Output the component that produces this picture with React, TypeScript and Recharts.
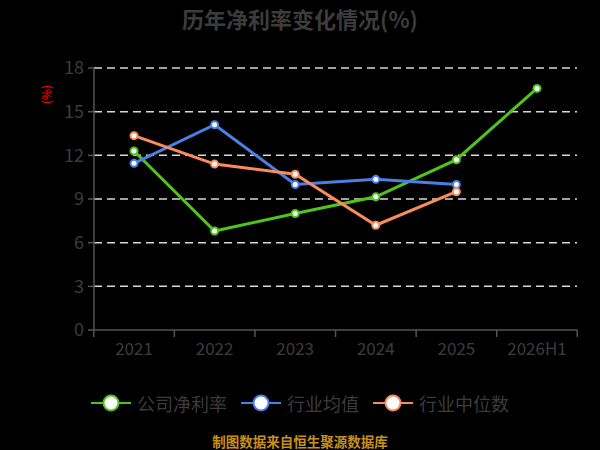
import React from "react";
import { CartesianGrid, Legend, Line, LineChart, XAxis, YAxis } from "recharts";

const anos = ["2021", "2022", "2023", "2024", "2025", "2026H1"];
const empresa = [12.3, 6.8, 8.0, 9.15, 11.7, 16.6];
const mediaSetor = [11.45, 14.1, 10.0, 10.35, 10.0, null];
const medianaSetor = [13.35, 11.4, 10.7, 7.2, 9.5, null];
const ticksY = [0, 3, 6, 9, 12, 15, 18];
const series = ["公司净利率", "行业均值", "行业中位数"];

const dados = anos.map((ano, i) => ({
  ano,
  empresa: empresa[i],
  media: mediaSetor[i],
  mediana: medianaSetor[i],
}));

const FONTE = '"Noto Sans CJK SC", "Noto Sans", sans-serif';
const CINZA = "#3c3c3c";

// tick do eixo X: traço na fronteira da categoria, rótulo no centro
function TickX(props: any) {
  const { x, y, payload, index, width } = props;
  const bw = width / anos.length;
  const ultimo = index === anos.length - 1;
  return (
    <g>
      <line x1={x - bw / 2} x2={x - bw / 2} y1={y} y2={y + 7} stroke="#555" strokeWidth={1.5} />
      {ultimo && <line x1={x + bw / 2} x2={x + bw / 2} y1={y} y2={y + 7} stroke="#555" strokeWidth={1.5} />}
      <text x={x} y={y + 25} textAnchor="middle" fill={CINZA} fontSize={17} fontFamily={FONTE}>
        {payload.value}
      </text>
    </g>
  );
}

function Ponto(props: any) {
  const { cx, cy, stroke, value } = props;
  if (value == null || cx == null) return null;
  return <circle cx={cx} cy={cy} r={3.5} fill="#fff" stroke={stroke} strokeWidth={2} />;
}

function Legenda(props: any) {
  const payload = [...(props.payload || [])].sort(
    (a: any, b: any) => series.indexOf(a.value) - series.indexOf(b.value)
  );
  return (
    <div style={{ display: "flex", justifyContent: "center", gap: 14, fontFamily: FONTE }}>
      {payload.map((p: any) => (
        <div key={p.value} style={{ display: "flex", alignItems: "center", gap: 6 }}>
          <svg width={40} height={20}>
            <line x1={0} x2={40} y1={10} y2={10} stroke={p.color} strokeWidth={2} />
            <circle cx={20} cy={10} r={7.5} fill="#fff" stroke={p.color} strokeWidth={2} />
          </svg>
          <span style={{ color: CINZA, fontSize: 18 }}>{p.value}</span>
        </div>
      ))}
    </div>
  );
}

export default function App() {
  return (
    <div style={{ position: "absolute", left: 0, top: 0, width: 600, height: 450, background: "#000", fontFamily: FONTE }}>
      <div
        style={{
          position: "absolute",
          top: 2,
          width: 600,
          textAlign: "center",
          fontSize: 22,
          fontWeight: 700,
          color: CINZA,
        }}
      >
        历年净利率变化情况(%)
      </div>
      <div
        style={{
          position: "absolute",
          left: 36,
          top: 86,
          fontSize: 12,
          color: "#ff0000",
          transform: "rotate(-90deg)",
          transformOrigin: "center",
        }}
      >
        (%)
      </div>
      <LineChart
        width={600}
        height={450}
        data={dados}
        margin={{ top: 68, right: 23, bottom: 64, left: 44 }}
      >
        <CartesianGrid vertical={false} stroke="#d8d8d8" strokeDasharray="8 5" strokeWidth={1.5} horizontalValues={[3, 6, 9, 12, 15, 18]} />
        <XAxis
          dataKey="ano"
          height={30}
          stroke="#555"
          strokeWidth={1.5}
          tickLine={false}
          tickSize={0}
          tickMargin={0}
          interval={0}
          padding={{ left: 40, right: 40 }}
          tick={<TickX />}
        />
        <YAxis
          width={50}
          domain={[0, 18]}
          ticks={ticksY}
          stroke="#555"
          strokeWidth={1.5}
          tickSize={6}
          tickMargin={4}
          tick={{ fill: CINZA, fontSize: 18, fontFamily: FONTE }}
        />
        <Legend
          verticalAlign="bottom"
          wrapperStyle={{ top: 390, left: 0, width: 600 }}
          content={<Legenda />}
        />
        <Line
          name={series[0]}
          dataKey="empresa"
          stroke="#4fc41c"
          strokeWidth={3}
          dot={<Ponto />}
          activeDot={false}
          isAnimationActive={false}
        />
        <Line
          name={series[1]}
          dataKey="media"
          stroke="#4a7fe3"
          strokeWidth={3}
          dot={<Ponto />}
          activeDot={false}
          isAnimationActive={false}
        />
        <Line
          name={series[2]}
          dataKey="mediana"
          stroke="#f98b5c"
          strokeWidth={3}
          dot={<Ponto />}
          activeDot={false}
          isAnimationActive={false}
        />
      </LineChart>
      <div
        style={{
          position: "absolute",
          top: 431,
          width: 600,
          textAlign: "center",
          fontSize: 13.5,
          fontWeight: 700,
          color: "#c8901a",
        }}
      >
        制图数据来自恒生聚源数据库
      </div>
    </div>
  );
}
